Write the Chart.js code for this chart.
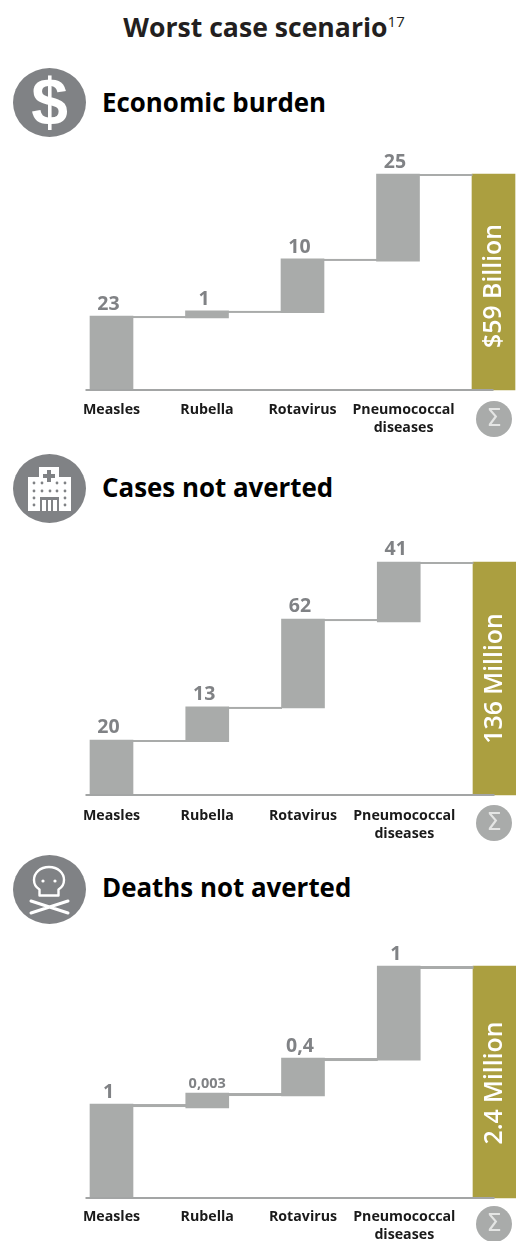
<!DOCTYPE html>
<html>
<head>
<meta charset="utf-8">
<title>Worst case scenario</title>
<script src="https://cdn.jsdelivr.net/npm/chart.js@4/dist/chart.umd.min.js"></script>
<style>
  html, body { margin: 0; padding: 0; background: #fff; }
  body { position: relative; width: 516px; height: 1241px; overflow: hidden; font-family: "Open Sans", sans-serif; }
  h1, h2 { position: absolute; margin: 0; font-weight: 700; color: #000; white-space: nowrap; line-height: 30px; }
  h1 { left: 0; width: 528px; top: 12px; text-align: center; font-size: 26.6px; color: #231f20; }
  h1 sup { font-size: 15px; font-weight: 400; line-height: 0; vertical-align: 10px; }
  h2 { left: 102px; font-size: 25.9px; }
  canvas { position: absolute; left: 0; }
  .icon { position: absolute; left: 13px; width: 73px; height: 69px; }
  .sigma { position: absolute; left: 476px; width: 36px; height: 36px; border-radius: 50%; background: #a9abaa;
           color: #e4e5e4; font: 400 24px/35px "DejaVu Sans", sans-serif; text-align: center; }
</style>
</head>
<body>
<h1>Worst case scenario<sup>17</sup></h1>

<svg class="icon" style="top:68px" viewBox="0 0 73 69">
  <ellipse cx="36.5" cy="34.5" rx="36.5" ry="34.5" fill="#808285"/>
  <text x="36.5" y="57" text-anchor="middle" fill="#fff" font-family="Liberation Sans" font-weight="700" font-size="66">$</text>
</svg>
<h2 style="top:87px">Economic burden</h2>

<svg class="icon" style="top:454px" viewBox="0 0 73 69">
  <ellipse cx="36.5" cy="34.5" rx="36.5" ry="34.5" fill="#808285"/>
  <path fill="#fff" d="M15 23h11V13h20v10h12v34H15z"/>
  <path fill="#808285" d="M34 16h4v4h4v4h-4v4h-4v-4h-4v-4h4z"/>
  <g fill="#808285">
    <circle cx="21" cy="29" r="1.400"/><circle cx="29" cy="29" r="1.400"/><circle cx="44" cy="29" r="1.400"/><circle cx="52" cy="29" r="1.400"/>
    <circle cx="21" cy="37" r="1.400"/><circle cx="29" cy="37" r="1.400"/><circle cx="37" cy="37" r="1.400"/><circle cx="44" cy="37" r="1.400"/><circle cx="52" cy="37" r="1.400"/>
    <circle cx="21" cy="44" r="1.400"/><circle cx="52" cy="44" r="1.400"/>
    <circle cx="21" cy="51" r="1.400"/><circle cx="52" cy="51" r="1.400"/>
    <path d="M27 43h19v14h-2V46h-4v11h-2V46h-3v11h-2V46h-4v11h-2z"/>
  </g>
</svg>
<h2 style="top:472px">Cases not averted</h2>

<svg class="icon" style="top:855px" viewBox="0 0 73 69">
  <ellipse cx="36.5" cy="34.5" rx="36.5" ry="34.5" fill="#808285"/>
  <path fill="none" stroke="#fff" stroke-width="2.400" stroke-linejoin="round"
        d="M36 12c-9 0-15 6-15 13 0 4.500 2.200 7.500 5.500 9.500v6h19v-6c3.300-2 5.500-5 5.500-9.500 0-7-6-13-15-13z"/>
  <circle cx="30" cy="26" r="1.600" fill="#fff"/><circle cx="42" cy="26" r="1.600" fill="#fff"/>
  <path stroke="#fff" stroke-width="3" stroke-linecap="round" d="M18 46l37 12M55 46L18 58"/>
</svg>
<h2 style="top:872px">Deaths not averted</h2>

<canvas id="chartEconomic"></canvas>
<canvas id="chartCases"></canvas>
<canvas id="chartDeaths"></canvas>

<div class="sigma" style="top:401px">Σ</div>
<div class="sigma" style="top:805px">Σ</div>
<div class="sigma" style="top:1206px">Σ</div>

<script>
// categories, the last slot is the total column and has no label under it
const categories = ["Measles", "Rubella", "Rotavirus", ["   Pneumococcal", "   diseases"], ""];

// [from, to] of each floating bar (the source bars are not drawn to the printed numbers)
const economicRanges = [[0, 20.2], [19.7, 21.6], [21.1, 35.8], [35.2, 59], [0, 59]];
const casesRanges = [[0, 32.1], [31.2, 51.4], [50.8, 102.7], [101, 136], [0, 136]];
const deathsRanges = [[0, 0.972], [0.931, 1.086], [1.055, 1.448], [1.427, 2.4], [0, 2.4]];

// printed numbers above the bars
const economicLabels = ["23", "1", "10", "25"];
const casesLabels = ["20", "13", "62", "41"];
const deathsLabels = ["1", "0,003", "0,4", "1"];

// text inside the total column
const economicTotal = "$59 Billion";
const casesTotal = "136 Million";
const deathsTotal = "2.4 Million";

const barGrey = "#a9abaa";
const gold = "#ab9f40";

// connectors, baseline and the two kinds of bar labels
const waterfallPlugin = {
    id: "waterfall",
    afterDatasetsDraw(chart, args, opts) {
        const ctx = chart.ctx;
        const bars = chart.getDatasetMeta(0).data;
        const baseY = chart.scales.y.getPixelForValue(0);
        ctx.save();

        // base line
        ctx.fillStyle = "#a3a5a5";
        ctx.fillRect(bars[0].x - 26, baseY - 1, bars[4].x - bars[0].x + 26, 2);

        // connectors between the bar tops
        ctx.fillStyle = barGrey;
        for (var i = 0; i < bars.length - 1; i++) {
            ctx.fillRect(bars[i].x + 21, bars[i].y, bars[i + 1].x - bars[i].x - 42, opts.connector);
        }

        // numbers above the bars
        ctx.textAlign = "center";
        ctx.textBaseline = "alphabetic";
        ctx.fillStyle = "#808285";
        for (var i = 0; i < opts.labels.length; i++) {
            var small = opts.labels[i].length > 3;
            ctx.font = small ? "700 14.5px 'Open Sans'" : "700 19.5px 'Open Sans'";
            ctx.fillText(opts.labels[i], bars[i].x - (small ? 0 : 3), bars[i].y - (small ? 5 : 6) - opts.labelLift);
        }

        // rotated total
        const total = bars[4];
        ctx.translate(total.x, (total.y + baseY) / 2 + opts.totalShift);
        ctx.rotate(-Math.PI / 2);
        ctx.textBaseline = "middle";
        ctx.fillStyle = "#fff";
        ctx.font = "600 24.8px 'Open Sans'";
        ctx.fillText(opts.total, 0, 0);
        ctx.restore();
    }
};

function drawChart(id, canvasTop, plotHeight, ranges, labels, total, right, connector, totalShift, tickPadding, labelLift) {
    const canvas = document.getElementById(id);
    canvas.style.top = canvasTop + "px";
    canvas.style.width = "516px";
    canvas.style.height = (30 + plotHeight + 50) + "px";
    canvas.width = 516;
    canvas.height = 30 + plotHeight + 50;

    new Chart(canvas, {
        type: "bar",
        data: {
            labels: categories,
            datasets: [{
                data: ranges,
                backgroundColor: [barGrey, barGrey, barGrey, barGrey, gold],
                barThickness: 43,
                clip: false
            }]
        },
        options: {
            responsive: false,
            animation: false,
            layout: { padding: { left: 111.5, right: right, top: 30, bottom: 0 } },
            plugins: {
                legend: { display: false },
                tooltip: { enabled: false },
                waterfall: { labels: labels, total: total, connector: connector, totalShift: totalShift, labelLift: labelLift }
            },
            scales: {
                x: {
                    offset: false,
                    afterFit(scale) { scale.height = 50; },
                    grid: { display: false },
                    border: { display: false },
                    ticks: {
                        autoSkip: false,
                        maxRotation: 0,
                        minRotation: 0,
                        padding: tickPadding,
                        color: "#1a1a1a",
                        font: { family: "'Open Sans'", size: 14.2, weight: "700", lineHeight: 1.27 }
                    }
                },
                y: { display: false, min: 0, max: ranges[4][1] }
            }
        },
        plugins: [waterfallPlugin]
    });
}

drawChart("chartEconomic", 144, 216, economicRanges, economicLabels, economicTotal, 22.5, 2, 4, 3, 0);
drawChart("chartCases", 532, 233, casesRanges, casesLabels, casesTotal, 21.5, 2, 0, 4, 1);
drawChart("chartDeaths", 936, 232, deathsRanges, deathsLabels, deathsTotal, 21.5, 3, 1, 2, 0);
</script>
</body>
</html>
